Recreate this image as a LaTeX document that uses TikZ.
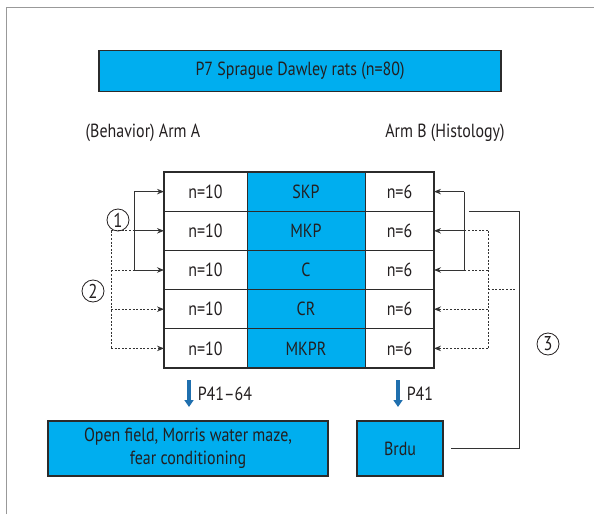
\documentclass[tikz,border=0pt]{standalone}
\usepackage{fontspec}
\setmainfont[FakeStretch=0.84]{PT Sans}
\usepackage{xcolor}
\usepackage{tikz}
\usetikzlibrary{arrows.meta,positioning}
\definecolor{ratblue}{HTML}{00AEEF}
\definecolor{arrowblue}{HTML}{1F6FAE}
\definecolor{boxgray}{HTML}{2B2B2B}
\definecolor{textgray}{HTML}{231F20}
\definecolor{linegray}{HTML}{333333}
\tikzset{
  bluebox/.style={
    draw=boxgray,
    fill=ratblue,
    line width=1.1pt,
    text=textgray,
    align=center,
    inner sep=0pt
  },
  ncell/.style={
    draw=boxgray,
    line width=0.9pt,
    text=textgray,
    minimum height=39.2pt,
    inner sep=0pt,
    outer sep=0pt
  },
  grpcell/.style={
    ncell,
    fill=ratblue,
    minimum width=118pt
  },
  conn/.style={
    draw=linegray,
    line width=0.9pt
  },
  solidarrow/.style={
    conn,
    -{Stealth[length=7pt,width=5.5pt]}
  },
  dotconn/.style={
    draw=linegray,
    line width=0.9pt,
    dash pattern=on 2pt off 1.6pt
  },
  dotarrow/.style={
    dotconn,
    -{Stealth[length=7pt,width=5.5pt]}
  },
  bigarrow/.style={
    draw=arrowblue,
    line width=3.6pt,
    -{Triangle[length=7pt,width=9pt]}
  },
  numcirc/.style={
    circle,
    draw=textgray,
    line width=0.8pt,
    minimum size=22pt,
    inner sep=0pt,
    text=textgray,
    font=\fontsize{20}{20}\selectfont
  },
  armlabel/.style={
    text=textgray,
    inner sep=0pt
  }
}

\begin{document}
\begin{tikzpicture}[x=1pt,y=-1pt,font=\fontsize{19}{23}\selectfont]
    \useasboundingbox (0,0) rectangle (594,514);
    \draw[draw=gray!80, line width=0.8pt] (6,514) -- (6,7) -- (594,7);

    \node[bluebox, minimum width=402pt, minimum height=41pt] (rats) at (300,71)
        {P7 Sprague Dawley rats (n=80)};
    \node[armlabel] (armA) at (143,133) {(Behavior) Arm A};
    \node[armlabel] (armB) at (445,133) {Arm B (Histology)};

    % groups
    \foreach \grp [count=\i] in {SKP,MKP,C,CR,MKPR} {
        \node[ncell, minimum width=83pt] (a\i) at (205.5,{152.4+39.2*\i}) {n=10};
        \node[grpcell, right=0pt of a\i] (g\i) {\grp};
        \node[ncell, minimum width=69pt, right=0pt of g\i] (b\i) {n=6};
    }
    \draw[draw=boxgray, line width=1.8pt] (a1.north west) rectangle (b5.south east);

    \coordinate (lsol) at (134,0);
    \coordinate (ldot) at (111,0);
    \coordinate (rsol) at (464,0);
    \coordinate (rdot) at (488,0);
    \coordinate (rstub) at (515,0);

    % arm A
    \draw[conn] (lsol |- a1) -- (lsol |- a3);
    \foreach \i in {1,2,3}
        \draw[solidarrow] (lsol |- a\i) -- (a\i);
    \draw[dotconn] (ldot |- a2) -- (ldot |- a5);
    \foreach \i in {2,3}
        \draw[dotconn] (ldot |- a\i) -- (lsol |- a\i);
    \foreach \i in {4,5}
        \draw[dotarrow] (ldot |- a\i) -- (a\i);

    % arm B
    \draw[conn] (rsol |- b1) -- (rsol |- b3);
    \foreach \i in {1,2,3}
        \draw[solidarrow] (rsol |- b\i) -- (b\i);
    \draw[dotconn] (rdot |- b2) -- (rdot |- b5);
    \foreach \i in {2,3}
        \draw[dotconn] (rdot |- b\i) -- (rsol |- b\i);
    \foreach \i in {4,5}
        \draw[dotarrow] (rdot |- b\i) -- (b\i);
    \draw[dotconn] (rdot |- g3.south) -- (rstub |- g3.south);

    \node[numcirc] (one) at (118,220) {1};
    \node[numcirc] (two) at (93,291) {2};
    \node[numcirc] (three) at (548,344) {3};

    % outcomes
    \node[bluebox, minimum width=280pt, minimum height=55pt] (behav) at (188,448.5)
        {Open field, Morris water maze,\\fear conditioning};
    \node[bluebox, minimum width=86pt, minimum height=55pt] (brdu) at (400,448.5) {Brdu};

    \coordinate (arA) at (189,380);
    \coordinate (arB) at (398,380);
    \draw[bigarrow] (arA) -- ++(0,27) node[midway, right=7pt, text=textgray, inner sep=0pt] (pA) {P41--64};
    \draw[bigarrow] (arB) -- ++(0,27) node[midway, right=7pt, text=textgray, inner sep=0pt] (pB) {P41};

    \coordinate (hstart) at (469,0);
    \coordinate (hright) at (519,0);
    \draw[conn] (hstart |- g1.south) -- (hright |- g1.south) |- ([xshift=7pt]brdu.east);
\end{tikzpicture}
\end{document}
